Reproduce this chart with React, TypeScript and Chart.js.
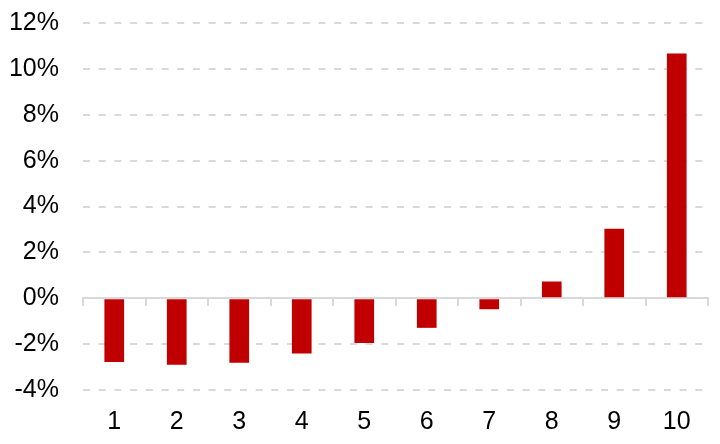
import React, { useEffect, useRef } from "react";
import { Chart, registerables } from "chart.js";

Chart.register(...registerables);

const categories = ["1", "2", "3", "4", "5", "6", "7", "8", "9", "10"];
const values = [-2.78, -2.9, -2.81, -2.41, -1.95, -1.29, -0.48, 0.73, 3.03, 10.67];
const yMin = -4;
const yMax = 12;
const yStep = 2;

const GRID = "#d9d9d9";
const BAR = "#c00000";
const FONT = "'Liberation Sans', Arial, Helvetica, sans-serif";

export default function App() {
  const ref = useRef<HTMLCanvasElement | null>(null);

  useEffect(() => {
    document.body.style.margin = "0";
    const canvas = ref.current;
    if (!canvas) return;
    const chart = new Chart(canvas, {
      type: "bar",
      data: {
        labels: categories,
        datasets: [
          {
            data: values,
            backgroundColor: BAR,
            borderWidth: 0,
            categoryPercentage: 1,
            barPercentage: 0.315,
            xAxisID: "x",
            yAxisID: "y",
          },
        ],
      },
      options: {
        animation: false,
        responsive: false,
        maintainAspectRatio: false,
        layout: { padding: { top: 23, right: 12, left: 0, bottom: 0 } },
        plugins: {
          legend: { display: false },
          tooltip: { enabled: false },
        },
        scales: {
          x: {
            type: "category",
            position: { y: 0 } as any,
            offset: true,
            z: 1,
            ticks: { display: false },
            grid: {
              display: true,
              drawOnChartArea: false,
              drawTicks: true,
              tickLength: 7,
              offset: true,
              color: GRID,
              lineWidth: 2,
            },
            border: { display: true, color: GRID, width: 2 },
          },
          x2: {
            type: "category",
            position: "bottom",
            labels: categories,
            offset: true,
            grid: { display: false, drawTicks: false },
            border: { display: false },
            ticks: {
              color: "#000",
              font: { family: FONT, size: 25 },
              padding: 17,
              maxRotation: 0,
              autoSkip: false,
            },
            afterFit: (scale: any) => {
              scale.height = 54;
            },
          },
          y: {
            type: "linear",
            position: "left",
            min: yMin,
            max: yMax,
            ticks: {
              stepSize: yStep,
              color: "#000",
              font: { family: FONT, size: 25 },
              padding: 24,
              callback: (v: any) => `${v}%`,
            },
            grid: {
              drawTicks: false,
              color: (ctx: any) => (ctx.tick && ctx.tick.value === 0 ? "rgba(0,0,0,0)" : GRID),
              lineWidth: 2,
            },
            border: { display: false, dash: [7, 8.7] },
            afterFit: (scale: any) => {
              scale.width = 83;
              scale.paddingTop = 0;
              scale.paddingBottom = 0;
            },
          },
        },
      },
    });
    return () => chart.destroy();
  }, []);

  return (
    <div style={{ position: "absolute", left: 0, top: 0, width: 720, height: 444 }}>
      <canvas ref={ref} width={720} height={444} style={{ width: 720, height: 444 }} />
    </div>
  );
}
